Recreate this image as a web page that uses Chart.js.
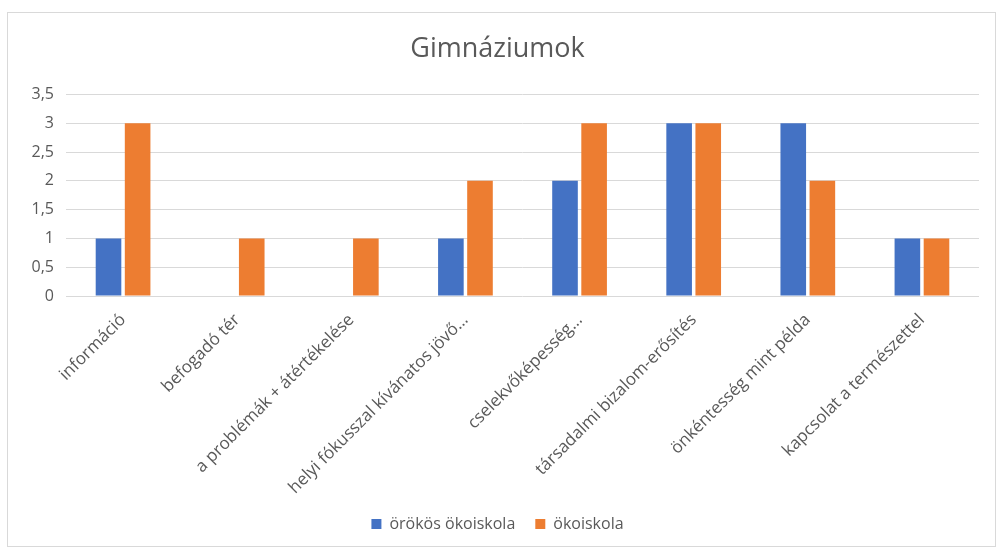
<!DOCTYPE html>
<html>
<head>
<meta charset="utf-8">
<script src="https://cdn.jsdelivr.net/npm/chart.js@4"></script>
<style>
    body { margin: 0; background: #fff; }
    #box {
        position: absolute;
        left: 7px; top: 12px;
        width: 989px; height: 535px;
        border: 1px solid #d9d9d9;
        box-sizing: border-box;
    }
</style>
</head>
<body>
<div id="box"><canvas id="gymChart"></canvas></div>
<script>
const categories = [
    'információ',
    'befogadó tér',
    'a problémák + átértékelése',
    'helyi fókusszal kívánatos jövő…',
    'cselekvőképesség…',
    'társadalmi bizalom-erősítés',
    'önkéntesség mint példa',
    'kapcsolat a természettel'
];
const orokosValues = [1, 0, 0, 1, 2, 3, 3, 1];
const okoiskolaValues = [3, 1, 1, 2, 3, 3, 2, 1];
const yTicks = [0, 0.5, 1, 1.5, 2, 2.5, 3, 3.5];

const grey = '#595959';
const font = "'Open Sans', 'Liberation Sans', sans-serif";

var ctx = document.getElementById('gymChart').getContext('2d');
var gymChart = new Chart(ctx, {
    type: 'bar',
    data: {
        labels: categories,
        datasets: [{
            label: 'örökös ökoiskola',
            backgroundColor: '#4472C4',
            data: orokosValues
        }, {
            label: 'ökoiskola',
            backgroundColor: '#ED7D31',
            data: okoiskolaValues
        }]
    },
    options: {
        responsive: true,
        maintainAspectRatio: false,
        animation: false,
        categoryPercentage: 0.51,
        barPercentage: 0.88,
        layout: { padding: { left: 8, right: 16, bottom: 4 } },
        scales: {
            x: {
                afterFit: function(scale) { scale.height = 200; },
                grid: { display: false },
                border: { display: false },
                ticks: {
                    color: grey,
                    font: { family: font, size: 17 },
                    minRotation: 45,
                    maxRotation: 45,
                    autoSkip: false,
                    padding: 6
                }
            },
            y: {
                min: 0,
                max: 3.5,
                afterBuildTicks: function(scale) {
                    scale.ticks = yTicks.map(v => ({ value: v }));
                },
                afterFit: function(scale) { scale.width = 50; },
                grid: { color: '#d9d9d9', drawTicks: false, lineWidth: 1 },
                border: { display: false },
                ticks: {
                    color: grey,
                    font: { family: font, size: 16 },
                    padding: 12,
                    callback: v => v.toString().replace('.', ',')
                }
            }
        },
        plugins: {
            title: {
                display: true,
                text: 'Gimnáziumok',
                color: grey,
                font: { family: font, size: 27, weight: 'normal' },
                padding: { top: 20, bottom: 29 }
            },
            legend: {
                position: 'bottom',
                labels: {
                    color: grey,
                    font: { family: font, size: 16 },
                    boxWidth: 10,
                    boxHeight: 10,
                    padding: 20
                }
            },
            tooltip: { enabled: false }
        }
    }
});
</script>
</body>
</html>
